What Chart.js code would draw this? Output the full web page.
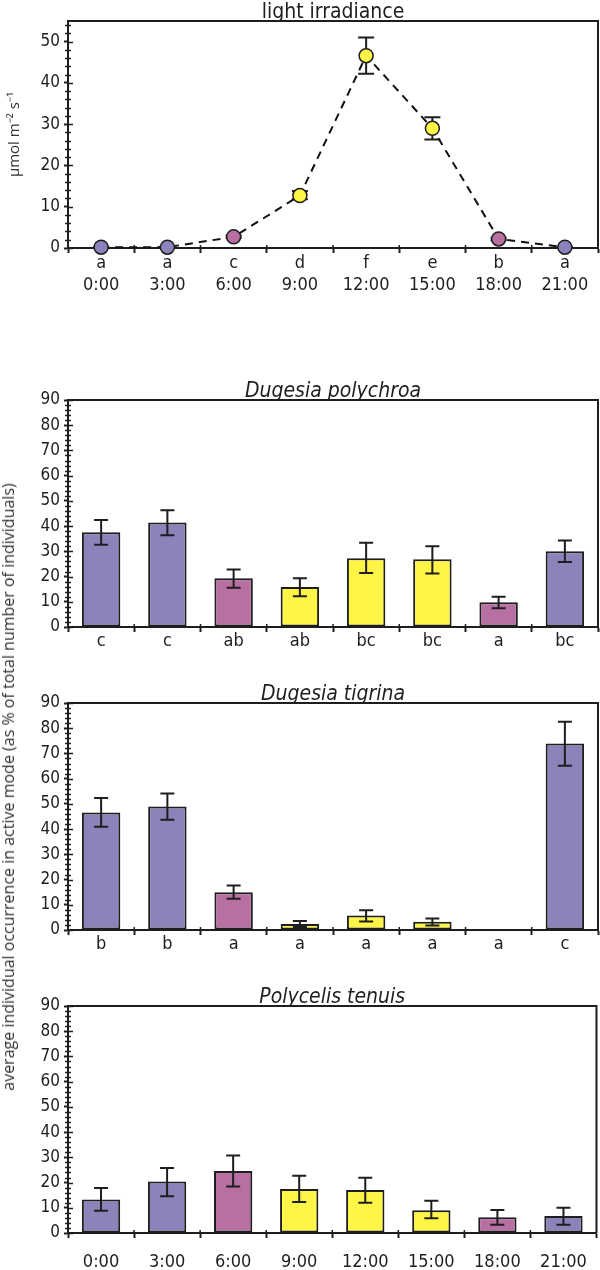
<!DOCTYPE html>
<html>
<head>
<meta charset="utf-8">
<script src="https://cdn.jsdelivr.net/npm/chart.js@4"></script>
<style>
  body { margin: 0; background: #fff; width: 600px; height: 1270px; position: relative; overflow: hidden; }
  canvas { position: absolute; left: 0; }
  #ytitle {
    position: absolute; left: 8px; top: 787px;
    transform: translate(-50%, -50%) rotate(-90deg);
    white-space: nowrap; font: 16px 'Open Sans', sans-serif; color: #333;
  }
</style>
</head>
<body>
<canvas id="light" width="600" height="300" style="top:-1px"></canvas>
<canvas id="poly" width="600" height="279" style="top:378px"></canvas>
<canvas id="tigr" width="600" height="279" style="top:681px"></canvas>
<canvas id="tenu" width="600" height="286" style="top:984px"></canvas>
<div id="ytitle">average individual occurrence in active mode (as % of total number of individuals)</div>
<script>
// data
const times = ['0:00', '3:00', '6:00', '9:00', '12:00', '15:00', '18:00', '21:00'];
const period = ['night', 'night', 'twilight', 'day', 'day', 'day', 'twilight', 'night'];

const lightLetters = ['a', 'a', 'c', 'd', 'f', 'e', 'b', 'a'];
const lightMean = [0.2, 0.2, 2.7, 12.7, 46.6, 29.0, 2.2, 0.2];
const lightLo = [0.1, 0.1, 2.4, 11.8, 42.2, 26.3, 1.9, 0.1];
const lightHi = [0.3, 0.3, 3.0, 13.8, 51.0, 31.7, 2.5, 0.3];

const polyLetters = ['c', 'c', 'ab', 'ab', 'bc', 'bc', 'a', 'bc'];
const polyMean = [37.6, 41.4, 19.3, 15.9, 27.3, 26.9, 9.8, 30.0];
const polyLo = [32.6, 36.4, 15.6, 12.2, 21.4, 21.2, 7.4, 25.8];
const polyHi = [42.4, 46.3, 22.8, 19.3, 33.4, 32.0, 12.0, 34.3];

const tigrLetters = ['b', 'b', 'a', 'a', 'a', 'a', 'a', 'c'];
const tigrMean = [46.6, 49.0, 15.0, 2.4, 5.7, 3.3, 0, 73.9];
const tigrLo = [40.9, 43.7, 12.4, 1.2, 3.4, 1.8, 0, 65.1];
const tigrHi = [52.3, 54.1, 17.6, 3.6, 7.8, 4.6, 0, 82.6];

const tenuMean = [13.3, 20.4, 24.6, 17.4, 17.0, 9.0, 6.2, 6.7];
const tenuLo = [8.8, 14.6, 18.4, 12.3, 12.0, 5.8, 3.3, 3.3];
const tenuHi = [17.8, 25.8, 30.7, 22.7, 21.9, 12.8, 9.1, 10.0];

const palette = { night: '#8a84ba', twilight: '#b86fa2', day: '#fff546' };
const fills = period.map(p => palette[p]);

const INK = '#1e1e1e';
Chart.defaults.font.family = "'DejaVu Sans Condensed', 'Liberation Sans Narrow', 'DejaVu Sans', sans-serif";
Chart.defaults.color = INK;
Chart.defaults.animation = false;

// box on top/right, minor ticks on y, short inner ticks on x
const frame = {
  id: 'frame',
  afterDraw(chart) {
    const { ctx, chartArea: a, scales: { x, y } } = chart;
    ctx.save();
    ctx.strokeStyle = INK;
    ctx.lineWidth = 2;
    ctx.beginPath();
    ctx.moveTo(a.left, a.top);
    ctx.lineTo(a.right, a.top);
    ctx.lineTo(a.right, a.bottom);
    ctx.stroke();
    ctx.lineWidth = 1.5;
    ctx.beginPath();
    for (let v = y.min; v <= y.max; v += 2) {
      const py = Math.round(y.getPixelForValue(v)) + 0.5;
      const major = v % 10 === 0;
      ctx.moveTo(a.left - (major ? 0 : 3), py);
      ctx.lineTo(a.left + (major ? 5 : 3), py);
    }
    for (let i = 1; i < times.length; i++) {
      const px = (x.getPixelForValue(i - 1) + x.getPixelForValue(i)) / 2;
      ctx.moveTo(px, a.bottom);
      ctx.lineTo(px, a.bottom - 3);
    }
    ctx.stroke();
    ctx.restore();
  }
};

function drawErrors(chart, opts) {
  const { ctx, scales: { y } } = chart;
  const pts = chart.getDatasetMeta(0).data;
  ctx.save();
  ctx.strokeStyle = INK;
  ctx.lineWidth = 2;
  ctx.beginPath();
  pts.forEach((p, i) => {
    if (opts.hi[i] <= opts.lo[i]) return;
    const top = y.getPixelForValue(opts.hi[i]);
    const bot = y.getPixelForValue(opts.lo[i]);
    const w = opts.cap;
    ctx.moveTo(p.x, top); ctx.lineTo(p.x, bot);
    ctx.moveTo(p.x - w, top); ctx.lineTo(p.x + w, top);
    ctx.moveTo(p.x - w, bot); ctx.lineTo(p.x + w, bot);
  });
  ctx.stroke();
  ctx.restore();
}

const errorBars = {
  id: 'errorBars',
  beforeDatasetsDraw(chart, args, opts) { if (opts.under) drawErrors(chart, opts); },
  afterDatasetsDraw(chart, args, opts) { if (!opts.under) drawErrors(chart, opts); }
};

function makeChart(id, c) {
  const dataset = c.type === 'line'
    ? { data: c.mean, borderColor: '#111', borderWidth: 2, borderDash: [8, 6], tension: 0,
        pointRadius: 7, pointHoverRadius: 7, pointBackgroundColor: fills,
        pointBorderColor: INK, pointBorderWidth: 1.5, clip: false }
    : { data: c.mean, backgroundColor: fills, borderColor: INK, borderWidth: 2,
        borderSkipped: false, barPercentage: 0.58, categoryPercentage: 1 };

  return new Chart(document.getElementById(id), {
    type: c.type,
    data: { labels: times, datasets: [dataset] },
    options: {
      responsive: false,
      layout: { autoPadding: false, padding: { left: 0, right: 2, top: 0, bottom: 0 } },
      plugins: {
        legend: { display: false },
        tooltip: { enabled: false },
        title: {
          display: true, text: c.title, fullSize: false, padding: { top: 3, bottom: -3 },
          color: INK, font: { size: 21, weight: 'normal', style: c.italic ? 'italic' : 'normal', lineHeight: '22px' }
        },
        errorBars: { lo: c.lo, hi: c.hi, under: c.type === 'line', cap: c.type === 'line' ? 8 : 7 }
      },
      scales: {
        x: {
          offset: true,
          grid: { offset: true, drawOnChartArea: false, tickLength: 5, tickWidth: 2, tickColor: INK },
          border: { color: INK, width: 2 },
          ticks: { autoSkip: false, maxRotation: 0, padding: c.labelPad,
                   font: { size: 18, lineHeight: '22px' }, callback: (v, i) => c.label(i) },
          afterFit: s => { s.height = c.xHeight; }
        },
        y: {
          min: 0, max: c.ymax,
          ticks: { stepSize: 10, padding: 4, font: { size: 17 } },
          afterBuildTicks: s => { s.ticks = s.ticks.filter(t => t.value % 10 === 0); },
          grid: { drawOnChartArea: false, tickLength: 4, tickWidth: 2, tickColor: INK },
          border: { color: INK, width: 2 },
          title: c.yTitle
            ? { display: true, text: c.yTitle, padding: { top: 6, bottom: 0 },
                color: '#333', font: { family: "'Open Sans', sans-serif", size: 15 } }
            : { display: false },
          afterFit: s => { s.width = 68; }
        }
      }
    },
    plugins: [frame, errorBars]
  });
}

makeChart('light', {
  type: 'line', title: 'light irradiance', ymax: 55,
  mean: lightMean, lo: lightLo, hi: lightHi,
  label: i => [lightLetters[i], times[i]], labelPad: -1, xHeight: 51,
  yTitle: 'μmol m⁻² s⁻¹'
});
makeChart('poly', {
  type: 'bar', title: 'Dugesia polychroa', italic: true, ymax: 90,
  mean: polyMean, lo: polyLo, hi: polyHi,
  label: i => polyLetters[i], labelPad: -2, xHeight: 30
});
makeChart('tigr', {
  type: 'bar', title: 'Dugesia tigrina', italic: true, ymax: 90,
  mean: tigrMean, lo: tigrLo, hi: tigrHi,
  label: i => tigrLetters[i], labelPad: -2, xHeight: 30
});
makeChart('tenu', {
  type: 'bar', title: 'Polycelis tenuis', italic: true, ymax: 90,
  mean: tenuMean, lo: tenuLo, hi: tenuHi,
  label: i => times[i], labelPad: 13, xHeight: 37
});
</script>
</body>
</html>
